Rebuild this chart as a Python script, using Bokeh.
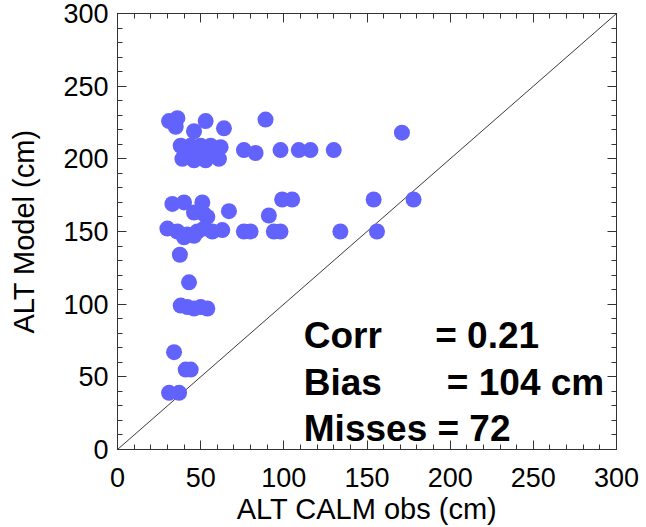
from bokeh.plotting import figure
from bokeh.models import Range1d, LinearAxis, SingleIntervalTicker
from bokeh.core.properties import value
from bokeh.embed import file_html
from bokeh.resources import INLINE

# Active-layer thickness: CALM observations vs. model (cm)
obs_cm = [
    31, 36, 35, 53, 89, 64, 46, 171,
    38, 44, 50, 56, 62,
    42, 48, 55, 76, 83, 98, 109, 116, 130,
    39, 46, 53, 61,
    33, 40, 51, 46, 52, 54, 67, 91, 99, 105, 154, 178,
    30, 36, 42, 48, 52, 57, 63, 76, 80, 94, 98, 134, 156, 40, 46,
    37.5, 43,
    38, 42, 46, 50, 54,
    34, 41, 44, 31, 37,
]
model_cm = [
    226, 228, 222, 226, 227, 221, 219, 218,
    209, 209, 209, 209, 208,
    205, 204, 205, 206, 204, 206, 206, 206, 206,
    200, 199, 199, 200,
    169, 170, 170, 163, 162, 160, 164, 161, 172, 172, 172, 172,
    152, 150, 148, 150, 152, 150, 151, 150, 150, 150, 150, 150, 150, 146, 147,
    134, 115,
    99, 98, 97, 98, 97,
    67, 55, 55, 39, 39,
]

one_to_one = [0, 300]

stat_names = ["Corr", "Bias"]
stat_values = ["= 0.21", "= 104 cm"]
misses_text = "Misses = 72"

x_label = "ALT CALM obs (cm)"
y_label = "ALT Model (cm)"

FONT = "Liberation Sans"
INK = "#333333"

p = figure(
    width=646, height=527,
    x_range=Range1d(0, 300), y_range=Range1d(0, 300),
    output_backend="svg", toolbar_location=None,
    min_border_left=117, min_border_right=30,
    min_border_top=13, min_border_bottom=78,
    x_axis_label=x_label, y_axis_label=y_label,
)
p.grid.visible = False
p.outline_line_color = INK
p.outline_line_width = 1
p.background_fill_color = "white"
p.border_fill_color = "white"

def style_axis(ax, show_labels=True):
    ax.ticker = SingleIntervalTicker(interval=50, num_minor_ticks=5)
    ax.axis_line_color = INK
    ax.major_tick_line_color = INK
    ax.minor_tick_line_color = INK
    ax.major_tick_in = 9
    ax.major_tick_out = 0
    ax.minor_tick_in = 5
    ax.minor_tick_out = 0
    if show_labels:
        ax.major_label_text_font = FONT
        ax.major_label_text_font_size = "27px"
        ax.major_label_text_color = "black"
        ax.axis_label_text_font = FONT
        ax.axis_label_text_font_size = "29px"
        ax.axis_label_text_font_style = "normal"
        ax.axis_label_text_color = "black"
    else:
        ax.major_label_text_font_size = "0px"
        ax.major_label_text_alpha = 0

style_axis(p.xaxis[0])
style_axis(p.yaxis[0])
p.xaxis[0].major_label_standoff = 18
p.xaxis[0].axis_label_standoff = 3
p.yaxis[0].major_label_standoff = 9
p.yaxis[0].axis_label_standoff = 20

top_axis = LinearAxis()
right_axis = LinearAxis()
style_axis(top_axis, show_labels=False)
style_axis(right_axis, show_labels=False)
p.add_layout(top_axis, "above")
p.add_layout(right_axis, "right")

# 1:1 reference line
p.line(one_to_one, one_to_one, line_color="#3a3a3a", line_width=1)

# scatter of model vs. observations
p.scatter(obs_cm, model_cm, size=16, marker="circle",
          fill_color="#6262FC", line_color="#6262FC", line_width=0)

# statistics block
stat_font = dict(text_font=value(FONT), text_font_size="37px",
                 text_font_style="bold", text_color="black",
                 text_baseline="alphabetic", text_align="left")
p.text(x=[112, 112], y=[78.5, 46.3], text=stat_names, **stat_font)
p.text(x=[191, 198], y=[78.5, 46.3], text=stat_values, **stat_font)
p.text(x=[112], y=[14.2], text=[misses_text], **stat_font)

open("out.html", "w").write(file_html(p, INLINE))
